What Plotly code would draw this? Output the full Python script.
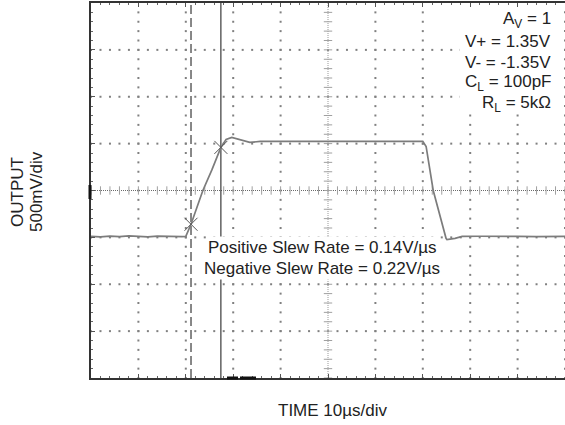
import numpy as np
import plotly.graph_objects as go

# Scope capture: large-signal step response
time_us = [0, 2, 4, 6, 8, 10, 12, 14, 16, 18, 19.2, 20.0, 21.1, 23.6, 25.5, 27.4,
           28.5, 29.7, 31.4, 33.5, 35.7, 40, 45, 50, 55, 60, 65, 70.0, 70.7,
           72.2, 74.9, 75.1, 76.8, 78.3, 82, 86, 90, 94, 98, 100]
output_v = [-0.49, -0.495, -0.487, -0.492, -0.485, -0.49, -0.494, -0.486, -0.491, -0.488,
            -0.492, -0.49, -0.36, 0.0, 0.22, 0.46,
            0.545, 0.567, 0.545, 0.513, 0.524, 0.522, 0.525, 0.523, 0.524, 0.522, 0.524, 0.524, 0.47,
            0.0, -0.51, -0.524, -0.51, -0.49, -0.488, -0.492, -0.489, -0.491, -0.487, -0.49]

# Measurement cursors
cursor_t = [21.1, 27.4]
cursor_v = [-0.36, 0.46]

# Scope settings
x_range = [0, 100]     # 10 us/div, 10 divisions
y_range = [-2.0, 2.0]  # 500 mV/div, 8 divisions
conditions = ["A<sub>V</sub> = 1", "V+ = 1.35V", "V- = -1.35V",
              "C<sub>L</sub> = 100pF", "R<sub>L</sub> = 5kΩ"]
slew_lines = ["Positive Slew Rate = 0.14V/µs", "Negative Slew Rate = 0.22V/µs"]

W, H = 565, 425
ML, MR, MT, MB = 91, 0, 3, 47
PW, PH = W - ML - MR, H - MT - MB
FONT = "Arial, Liberation Sans, sans-serif"


def px_x(px):
    return (px - ML) / PW


def px_y(py):
    return (H - MB - py) / PH


fig = go.Figure()

# Graticule: dotted division lines with a dot every fifth of a division
gx, gy = [], []
for xv in np.arange(10, 100.001, 10):
    if xv == 50:
        continue
    for yv in np.arange(-2.0, 2.0001, 0.1):
        gx.append(xv); gy.append(yv)
for yv in np.arange(-1.5, 1.5001, 0.5):
    if abs(yv) < 1e-9:
        continue
    for xv in np.arange(0, 100.001, 2):
        gx.append(xv); gy.append(yv)
fig.add_trace(go.Scatter(x=gx, y=gy, mode="markers", hoverinfo="skip", cliponaxis=False,
                         marker=dict(symbol="square", size=2, color="#808080", line=dict(width=0))))

# Centre axes of the graticule with finer tick marks
fig.add_trace(go.Scatter(x=[50, 50], y=y_range, mode="lines", hoverinfo="skip",
                         line=dict(color="#9a9a9a", width=1, dash="1px,1px")))
fig.add_trace(go.Scatter(x=x_range, y=[0, 0], mode="lines", hoverinfo="skip",
                         line=dict(color="#6a6a6a", width=1, dash="1px,1px")))
cy = np.arange(-2.0, 2.0001, 0.1)
fig.add_trace(go.Scatter(x=[50] * len(cy), y=cy, mode="markers", hoverinfo="skip",
                         marker=dict(symbol="line-ew", size=6, color="#a0a0a0",
                                     line=dict(width=1, color="#a0a0a0"))))
cx = np.arange(0, 100.001, 2)
fig.add_trace(go.Scatter(x=cx, y=[0] * len(cx), mode="markers", hoverinfo="skip",
                         marker=dict(symbol="line-ns", size=6, color="#a0a0a0",
                                     line=dict(width=1, color="#a0a0a0"))))

# Cursors
fig.add_trace(go.Scatter(x=[cursor_t[0]] * 2, y=y_range, mode="lines", hoverinfo="skip",
                         line=dict(color="#3a3a3a", width=1.2, dash="9px,4px")))
fig.add_trace(go.Scatter(x=[cursor_t[1]] * 2, y=y_range, mode="lines", hoverinfo="skip",
                         line=dict(color="#3a3a3a", width=1.2)))

# Output waveform
fig.add_trace(go.Scatter(x=time_us, y=output_v, mode="lines",
                         line=dict(color="#7c7c7c", width=1.7)))

# Cursor crossing markers
fig.add_trace(go.Scatter(x=cursor_t, y=cursor_v, mode="markers", hoverinfo="skip",
                         marker=dict(symbol="x-thin", size=13, color="#555555",
                                     line=dict(width=1, color="#555555"))))

annotations = []
for i, txt in enumerate(conditions):
    annotations.append(dict(text=txt, xref="paper", yref="paper", x=px_x(553),
                            y=px_y(20 + i * 21), xanchor="right", yanchor="middle",
                            showarrow=False, font=dict(family=FONT, size=17, color="#222")))
for i, txt in enumerate(slew_lines):
    annotations.append(dict(text=txt, xref="paper", yref="paper", x=px_x(322),
                            y=px_y(247 + i * 21), xanchor="center", yanchor="middle",
                            showarrow=False, bgcolor="white",
                            font=dict(family=FONT, size=17, color="#222")))
annotations.append(dict(text="TIME 10µs/div", xref="paper", yref="paper", x=px_x(332),
                        y=px_y(410), xanchor="center", yanchor="middle", showarrow=False,
                        font=dict(family=FONT, size=17, color="#222")))
annotations.append(dict(text="OUTPUT", xref="paper", yref="paper", x=px_x(17),
                        y=px_y(192), xanchor="center", yanchor="middle", showarrow=False,
                        textangle=-90, font=dict(family=FONT, size=17, color="#222")))
annotations.append(dict(text="500mV/div", xref="paper", yref="paper", x=px_x(36),
                        y=px_y(192), xanchor="center", yanchor="middle", showarrow=False,
                        textangle=-90, font=dict(family=FONT, size=17, color="#222")))

shapes = [
    # white panel behind the test-condition block
    dict(type="rect", xref="paper", yref="paper", layer="above",
         x0=px_x(460), x1=px_x(557), y0=px_y(114), y1=px_y(7),
         fillcolor="white", line=dict(width=0)),
    # ground reference marker on the left edge
    dict(type="line", xref="paper", yref="paper", x0=px_x(90), x1=px_x(90),
         y0=px_y(185), y1=px_y(199), line=dict(color="#111", width=3)),
    # trigger markers on the bottom edge
    dict(type="line", xref="paper", yref="paper", x0=px_x(227), x1=px_x(238),
         y0=px_y(378), y1=px_y(378), line=dict(color="#111", width=3)),
    dict(type="line", xref="paper", yref="paper", x0=px_x(240), x1=px_x(256),
         y0=px_y(378), y1=px_y(378), line=dict(color="#111", width=3)),
]

fig.update_layout(
    width=W, height=H, margin=dict(l=ML, r=MR, t=MT, b=MB),
    paper_bgcolor="white", plot_bgcolor="white", showlegend=False,
    annotations=annotations, shapes=shapes,
    xaxis=dict(range=x_range, showgrid=False, zeroline=False, showticklabels=False,
               showline=True, linecolor="#333", linewidth=1.5, mirror="ticks",
               ticks="inside", ticklen=4, tickcolor="#555", dtick=10, tick0=0,
               minor=dict(ticks="inside", ticklen=2, dtick=2, tickcolor="#666")),
    yaxis=dict(range=y_range, showgrid=False, zeroline=False, showticklabels=False,
               showline=True, linecolor="#333", linewidth=1.5,
               ticks="inside", ticklen=4, tickcolor="#555", dtick=0.5, tick0=0,
               minor=dict(ticks="inside", ticklen=2, dtick=0.1, tickcolor="#666")),
)

fig.write_html("out.html")
